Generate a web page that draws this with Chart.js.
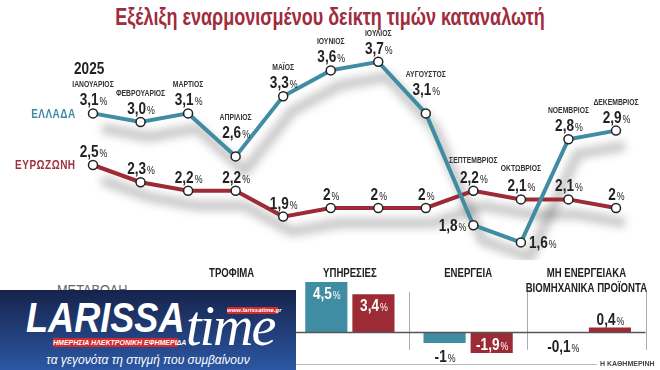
<!DOCTYPE html>
<html>
<head>
<meta charset="utf-8">
<script src="https://cdn.jsdelivr.net/npm/chart.js@4.4.1/dist/chart.umd.min.js"></script>
<style>
  body { margin: 0; background: #fff; }
  #wrap { position: relative; width: 660px; height: 370px; overflow: hidden; background: #fff;
          font-family: "Liberation Sans", Arial, sans-serif; }
  #title { position: absolute; left: 0; top: 3px; width: 660px; text-align: center; color: #a02b3c;
           font-size: 24px; font-weight: bold; white-space: nowrap;
           transform: scaleX(0.75); transform-origin: 330px 50%; }
  .lbl { position: absolute; font-weight: bold; white-space: nowrap; transform: scaleX(0.8); }
  #year { left: 74px; top: 59px; font-size: 17px; color: #222; transform-origin: left top; }
  #gr { right: 584px; top: 107px; font-size: 12.5px; color: #3f8aa5; letter-spacing: 0.6px; transform-origin: right top; }
  #ez { right: 584px; top: 158px; font-size: 12.5px; color: #a0303c; letter-spacing: 0.6px; transform-origin: right top; }
  #line { position: absolute; left: 0; top: 0; }
  #bars { position: absolute; left: 0; top: 255px; }
  #metavoli { position: absolute; left: 57px; top: 281px; font-size: 15px; color: #666;
              transform: scaleX(0.85); transform-origin: left top; }
  #rule { position: absolute; left: 296px; top: 364px; width: 301px; height: 1px; background: #bbb; }
  #source { position: absolute; left: 600px; top: 360px; font-size: 7px; font-weight: bold; color: #444; }
  #logo { position: absolute; left: 0; top: 290px; width: 296px; height: 80px;
          background: linear-gradient(#16234b, #2c57a3); overflow: hidden; }
  #logo div { position: absolute; white-space: nowrap; color: #fff; }
  #larissa { left: 26px; top: 4px; font: italic bold 42px "Liberation Sans", Arial, sans-serif;
             transform: scaleX(0.86); transform-origin: left top; }
  #time { left: 186px; top: 4px; font: italic 56px "Liberation Serif", serif; letter-spacing: -2px; }
  #web { left: 227px; top: 17px; width: 51px; height: 7px; background: #d12a2f; font: italic bold 6px "Liberation Sans", sans-serif;
         line-height: 7px; text-align: center; }
  #daily { left: 53px; top: 48px; width: 125px; height: 9px; background: #d12a2f; font: italic bold 7px "Liberation Sans", sans-serif;
           line-height: 9px; text-align: center; }
  #tag { left: 0; top: 63px; width: 296px; text-align: center; font: italic 12px "Liberation Sans", sans-serif; }
</style>
</head>
<body>
<div id="wrap">
  <div id="title">Εξέλιξη εναρμονισμένου δείκτη τιμών καταναλωτή</div>
  <canvas id="line" width="660" height="260"></canvas>
  <div class="lbl" id="year">2025</div>
  <div class="lbl" id="gr">ΕΛΛΑΔΑ</div>
  <div class="lbl" id="ez">ΕΥΡΩΖΩΝΗ</div>
  <div id="metavoli">ΜΕΤΑΒΟΛΗ</div>
  <canvas id="bars" width="660" height="115"></canvas>
  <div id="rule"></div>
  <div id="source">Η ΚΑΘΗΜΕΡΙΝΗ</div>
  <div id="logo">
    <div id="larissa">LARISSA</div>
    <div id="time">time</div>
    <div id="web">www.larissatime.gr</div>
    <div id="daily">ΗΜΕΡΗΣΙΑ ΗΛΕΚΤΡΟΝΙΚΗ ΕΦΗΜΕΡΙΔΑ</div>
    <div id="tag">τα γεγονότα τη στιγμή που συμβαίνουν</div>
  </div>
</div>
<script>
const months = ['ΙΑΝΟΥΑΡΙΟΣ', 'ΦΕΒΡΟΥΑΡΙΟΣ', 'ΜΑΡΤΙΟΣ', 'ΑΠΡΙΛΙΟΣ', 'ΜΑΪΟΣ', 'ΙΟΥΝΙΟΣ',
                'ΙΟΥΛΙΟΣ', 'ΑΥΓΟΥΣΤΟΣ', 'ΣΕΠΤΕΜΒΡΙΟΣ', 'ΟΚΤΩΒΡΙΟΣ', 'ΝΟΕΜΒΡΙΟΣ', 'ΔΕΚΕΜΒΡΙΟΣ'];
const greece   = [3.1, 3.0, 3.1, 2.6, 3.3, 3.6, 3.7, 3.1, 1.8, 1.6, 2.8, 2.9];
const eurozone = [2.5, 2.3, 2.2, 2.2, 1.9, 2.0, 2.0, 2.0, 2.2, 2.1, 2.1, 2.0];
// where the greek label goes relative to its point
const greecePlace = ['up', 'up', 'up', 'high', 'up', 'up', 'up', 'high', 'left', 'right', 'up', 'up'];

const groups = [['ΤΡΟΦΙΜΑ'], ['ΥΠΗΡΕΣΙΕΣ'], ['ΕΝΕΡΓΕΙΑ'], ['ΜΗ ΕΝΕΡΓΕΙΑΚΑ', 'ΒΙΟΜΗΧΑΝΙΚΑ ΠΡΟΪΟΝΤΑ']];
const greeceBars   = [3.3, 4.5, -1.0, -0.1];
const eurozoneBars = [2.6, 3.4, -1.9, 0.4];

const BLUE = '#3f8ca3';
const RED = '#9c2b35';

// no narrow font installed, so text is squeezed by hand
const FONT = '"Liberation Sans"';
const squeeze = 0.8;

function fmt(v, keepDecimal) {
    let s = keepDecimal ? v.toFixed(1) : String(Math.round(v * 10) / 10);
    return s.replace('.', ',');
}

function textW(ctx, s, font) {
    ctx.font = font;
    return ctx.measureText(s).width * squeeze;
}

function put(ctx, s, x, y, font, color) {
    ctx.save();
    ctx.font = font;
    ctx.fillStyle = color;
    ctx.textAlign = 'left';
    ctx.textBaseline = 'alphabetic';
    ctx.translate(x, y);
    ctx.scale(squeeze, 1);
    ctx.fillText(s, 0, 0);
    ctx.restore();
}

// number in big bold, % smaller; y is the vertical middle
function drawValue(ctx, v, keepDecimal, x, y, align, color) {
    const num = fmt(v, keepDecimal);
    const f1 = 'bold 17px ' + FONT, f2 = '11px ' + FONT;
    const w1 = textW(ctx, num, f1), w2 = textW(ctx, '%', f2);
    let left = x - (w1 + w2) / 2;
    if (align === 'left') left = x;
    if (align === 'right') left = x - w1 - w2;
    put(ctx, num, left, y + 6, f1, color || '#222');
    put(ctx, '%', left + w1 + 1, y + 6, f2, color || '#222');
}

function drawSmall(ctx, s, x, y) {
    const f = 'bold 8.5px ' + FONT;
    const w = textW(ctx, s, f);
    put(ctx, s, x - w / 2, y + 3, f, '#333');
}

const shadowPlugin = {
    id: 'shadow',
    beforeDatasetsDraw(chart) {
        const ctx = chart.ctx;
        ctx.save();
        ctx.filter = 'blur(4px)';
        ctx.strokeStyle = 'rgba(0,0,0,0.22)';
        ctx.lineWidth = 10;
        ctx.lineJoin = 'round';
        chart.data.datasets.forEach((ds, di) => {
            const pts = chart.getDatasetMeta(di).data;
            ctx.beginPath();
            pts.forEach((p, i) => {
                if (i === 0) ctx.moveTo(p.x + 9, p.y + 15);
                else ctx.lineTo(p.x + 9, p.y + 15);
            });
            ctx.stroke();
        });
        ctx.restore();
    }
};

const lineLabels = {
    id: 'lineLabels',
    afterDatasetsDraw(chart) {
        const ctx = chart.ctx;
        const gp = chart.getDatasetMeta(0).data;
        const ep = chart.getDatasetMeta(1).data;
        gp.forEach((p, i) => {
            const place = greecePlace[i];
            if (place === 'left' || place === 'right') {
                const dx = place === 'left' ? -8 : 8;
                drawValue(ctx, greece[i], true, p.x + dx, p.y, place === 'left' ? 'right' : 'left');
                drawSmall(ctx, months[i], ep[i].x, ep[i].y - 31);
            } else {
                const lift = place === 'high' ? 24 : 14;
                drawValue(ctx, greece[i], true, p.x, p.y - lift, 'center');
                drawSmall(ctx, months[i], p.x, p.y - lift - 15);
            }
        });
        ep.forEach((p, i) => {
            drawValue(ctx, eurozone[i], false, p.x, p.y - 14, 'center');
        });
    }
};

new Chart(document.getElementById('line'), {
    type: 'line',
    data: {
        labels: months,
        datasets: [
            {
                label: 'ΕΛΛΑΔΑ',
                data: greece,
                borderColor: BLUE,
                borderWidth: 4,
                pointRadius: 4.5,
                pointBackgroundColor: '#fff',
                pointBorderColor: '#222',
                pointBorderWidth: 1.5,
                tension: 0
            },
            {
                label: 'ΕΥΡΩΖΩΝΗ',
                data: eurozone,
                borderColor: RED,
                borderWidth: 4,
                pointRadius: 4.5,
                pointBackgroundColor: '#fff',
                pointBorderColor: '#222',
                pointBorderWidth: 1.5,
                tension: 0
            }
        ]
    },
    options: {
        responsive: false,
        animation: false,
        layout: { padding: { left: 93, right: 44, top: 36, bottom: 9 } },
        plugins: { legend: { display: false }, tooltip: { enabled: false } },
        scales: {
            x: { display: false, offset: false },
            y: { display: false, min: 1.5, max: 4.0 }
        }
    },
    plugins: [shadowPlugin, lineLabels]
});

const barDecor = {
    id: 'barDecor',
    beforeDatasetsDraw(chart) {
        const ctx = chart.ctx, xs = chart.scales.x, area = chart.chartArea;
        const step = xs.getPixelForValue(1) - xs.getPixelForValue(0);
        ctx.save();
        ctx.strokeStyle = '#aaa';
        ctx.lineWidth = 1;
        for (let i = 0; i < groups.length; i++) {
            const x = Math.round(xs.getPixelForValue(i) + step / 2) + 0.5;
            ctx.beginPath();
            ctx.moveTo(x, area.top);
            ctx.lineTo(x, area.bottom);
            ctx.stroke();
        }
        ctx.restore();
        groups.forEach((lines, i) => {
            lines.forEach((s, k) => {
                const f = 'bold 12px ' + FONT;
                const w = textW(ctx, s, f);
                put(ctx, s, xs.getPixelForValue(i) - w / 2, 22 + k * 15, f, '#222');
            });
        });
    },
    afterDatasetsDraw(chart) {
        const ctx = chart.ctx, ys = chart.scales.y, area = chart.chartArea;
        const y0 = Math.round(ys.getPixelForValue(0)) + 0.5;
        ctx.save();
        ctx.strokeStyle = '#555';
        ctx.lineWidth = 1.5;
        ctx.beginPath();
        ctx.moveTo(area.left, y0);
        ctx.lineTo(area.right, y0);
        ctx.stroke();
        ctx.restore();
        chart.data.datasets.forEach((ds, di) => {
            chart.getDatasetMeta(di).data.forEach((bar, i) => {
                const v = ds.data[i];
                const h = Math.abs(bar.base - bar.y);
                if (h >= 18) {
                    const y = v > 0 ? bar.y + 11 : bar.y - 9;
                    drawValue(ctx, v, false, bar.x, y, 'center', '#fff');
                } else {
                    const y = v > 0 ? bar.y - 9 : bar.y + 13;
                    drawValue(ctx, v, false, bar.x, y, 'center', '#222');
                }
            });
        });
    }
};

new Chart(document.getElementById('bars'), {
    type: 'bar',
    data: {
        labels: groups,
        datasets: [
            { label: 'ΕΛΛΑΔΑ', data: greeceBars, backgroundColor: BLUE, clip: false,
              categoryPercentage: 0.797, barPercentage: 0.894 },
            { label: 'ΕΥΡΩΖΩΝΗ', data: eurozoneBars, backgroundColor: RED, clip: false,
              categoryPercentage: 0.797, barPercentage: 0.894 }
        ]
    },
    options: {
        responsive: false,
        animation: false,
        layout: { padding: { left: 172.5, right: 14.5, top: 37, bottom: 20.24 } },
        plugins: { legend: { display: false }, tooltip: { enabled: false } },
        scales: {
            x: { display: false },
            y: { display: false, min: -1.6, max: 3.6 }
        }
    },
    plugins: [barDecor]
});
</script>
</body>
</html>
